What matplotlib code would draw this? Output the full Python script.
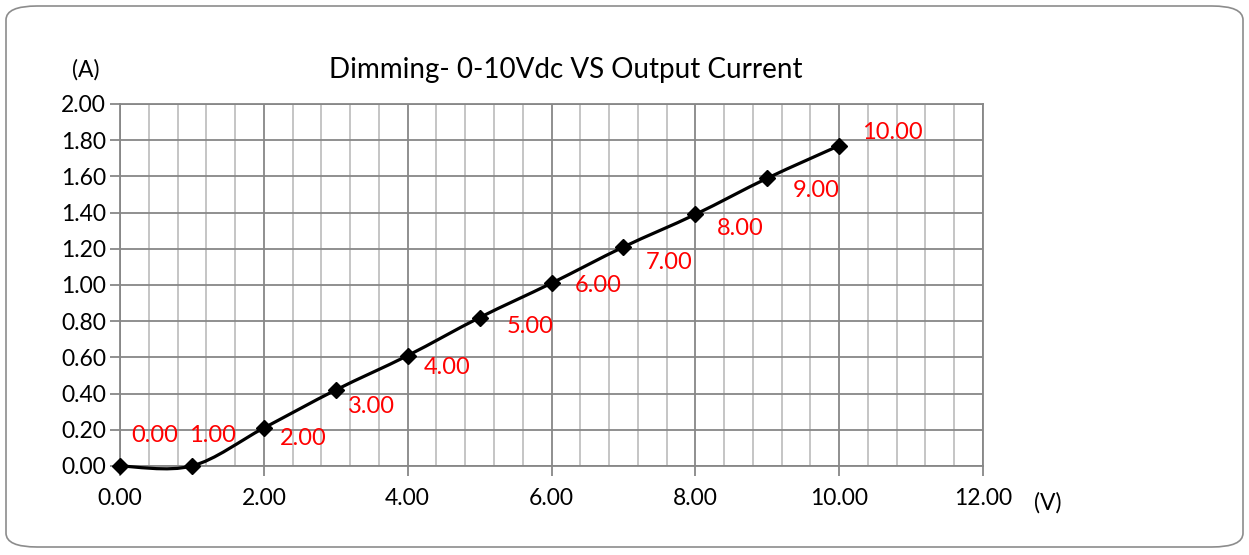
import numpy as np
import matplotlib.pyplot as plt
from matplotlib.path import Path
from matplotlib.patches import PathPatch, FancyBboxPatch
from matplotlib.ticker import MultipleLocator, FormatStrFormatter

# datos
voltaje = [0, 1, 2, 3, 4, 5, 6, 7, 8, 9, 10]
corriente = [0.00, 0.00, 0.21, 0.42, 0.61, 0.82, 1.01, 1.21, 1.39, 1.59, 1.77]
etiquetas = ["0.00", "1.00", "2.00", "3.00", "4.00", "5.00",
             "6.00", "7.00", "8.00", "9.00", "10.00"]
# desplazamiento de cada etiqueta (pixeles)
offsets = [(35, 31), (21, 31), (39, -11), (36, -17), (39, -12), (51, -9),
           (47, -2), (46, -16), (45, -14), (49, -12), (53, 13)]

plt.rcParams['font.family'] = ['Lato', 'DejaVu Sans']

fig = plt.figure(figsize=(12.49, 5.55), dpi=100)
ax = fig.add_axes([120 / 1249, 1 - 466 / 555, 863 / 1249, 362 / 555])

# marco redondeado
fig.patches.append(FancyBboxPatch((6 / 1249, 8 / 555), 1237 / 1249, 541 / 555,
                                  boxstyle="round,pad=0,rounding_size=0.025",
                                  transform=fig.transFigure, fill=False,
                                  edgecolor='#8c8c8c', linewidth=1.2))

# curva suavizada (tipo Excel) con Bezier
x = np.array(voltaje, float)
y = np.array(corriente, float)
verts = [(x[0], y[0])]
codes = [Path.MOVETO]
n = len(x)
for i in range(n - 1):
    p0 = np.array([x[max(i - 1, 0)], y[max(i - 1, 0)]])
    p1 = np.array([x[i], y[i]])
    p2 = np.array([x[i + 1], y[i + 1]])
    p3 = np.array([x[min(i + 2, n - 1)], y[min(i + 2, n - 1)]])
    c1 = p1 + (p2 - p0) / 6
    c2 = p2 - (p3 - p1) / 6
    verts += [tuple(c1), tuple(c2), tuple(p2)]
    codes += [Path.CURVE4] * 3
ax.add_patch(PathPatch(Path(verts, codes), fill=False, edgecolor='black',
                       linewidth=2.3, zorder=3, clip_on=False))
ax.plot(voltaje, corriente, linestyle='none', marker='D', markersize=8,
        color='black', zorder=4, clip_on=False)

for xv, yv, t, (dx, dy) in zip(voltaje, corriente, etiquetas, offsets):
    ax.annotate(t, (xv, yv), xytext=(dx * 0.72, dy * 0.72),
                textcoords='offset points', ha='center', va='center',
                color='red', fontsize=17)

ax.set_xlim(0, 12)
ax.set_ylim(0, 2)
ax.xaxis.set_major_locator(MultipleLocator(2))
ax.xaxis.set_minor_locator(MultipleLocator(0.4))
ax.yaxis.set_major_locator(MultipleLocator(0.2))
ax.xaxis.set_major_formatter(FormatStrFormatter('%.2f'))
ax.yaxis.set_major_formatter(FormatStrFormatter('%.2f'))
ax.grid(True, which='major', color='#878787', linewidth=1.3)
ax.grid(True, which='minor', axis='x', color='#c0c0c0', linewidth=1.3)
ax.set_axisbelow(True)
for s in ax.spines.values():
    s.set_color('#878787')
    s.set_linewidth(1.3)
ax.tick_params(axis='both', which='major', labelsize=16.5, color='#878787',
               length=7, width=1.3)
ax.tick_params(axis='x', which='minor', length=0)
ax.tick_params(axis='x', pad=9)
ax.tick_params(axis='y', pad=3)

fig.text(566 / 1249, 1 - 70 / 555, "Dimming- 0-10Vdc VS Output Current",
         ha='center', va='center', fontsize=20)
fig.text(86 / 1249, 1 - 70 / 555, "(A)", ha='center', va='center', fontsize=16.5)
fig.text(1048 / 1249, 1 - 503 / 555, "(V)", ha='center', va='center', fontsize=16.5)

fig.savefig('out.png', dpi=100)
